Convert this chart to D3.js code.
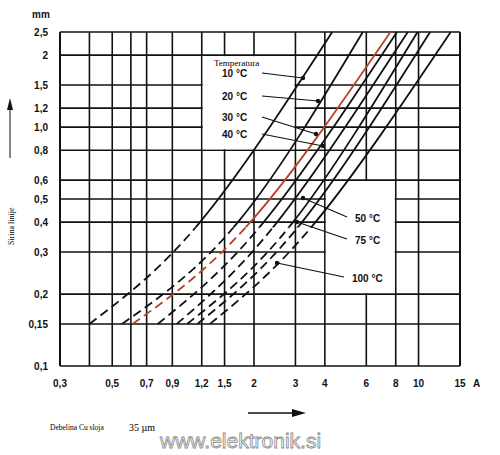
<!DOCTYPE html>
<meta charset="utf-8">
<style>
body { margin: 0; background: #fff; }
text { font-family: "Liberation Sans", Arial, sans-serif; }
.grid line { stroke: #111; stroke-width: 1.6; }
.lbl { font-size: 10px; font-weight: bold; fill: #111; }
.serif { font-family: "Liberation Serif", serif; }
</style>
<script src="https://d3js.org/d3.v7.min.js"></script>
<svg width="500" height="455"></svg>
<script>
var xTicks = [0.3, 0.5, 0.7, 0.9, 1.2, 1.5, 2, 3, 4, 6, 8, 10, 15];
var xTickText = ["0,3", "0,5", "0,7", "0,9", "1,2", "1,5", "2", "3", "4", "6", "8", "10", "15"];
var xGrid = [0.4, 0.5, 0.6, 0.7, 0.9, 1.2, 1.5, 2, 3, 4, 6, 8, 10];
var yTicks = [0.1, 0.15, 0.2, 0.3, 0.4, 0.5, 0.6, 0.8, 1.0, 1.2, 1.5, 2, 2.5];
var yTickText = ["0,1", "0,15", "0,2", "0,3", "0,4", "0,5", "0,6", "0,8", "1,0", "1,2", "1,5", "2", "2,5"];
// curves: current (A) at 0.15 mm, 0.4 mm and 2.5 mm
var curveStart = [0.4, 0.55, 0.61, 0.78, 0.94, 1.04, 1.15, 1.3];
var curveMid = [1.18, 1.71, 1.93, 2.2, 2.51, 2.93, 3.2, 3.65];
var curveEnd = [4.3, 5.8, 7.6, 8.1, 9.0, 9.9, 11.2, 13.7];
var curveRed = [false, false, true, false, false, false, false, false];
var tempLabels = ["10 °C", "20 °C", "30 °C", "40 °C"];
var lowLabels = ["50 °C", "75 °C", "100 °C"];

var svg = d3.select("svg");
var x = d3.scaleLog().domain([0.3, 15]).range([60, 460]);
var y = d3.scaleLog().domain([0.1, 2.5]).range([366, 32]);

var g = svg.append("g").attr("class", "grid");
g.selectAll(".v").data(xGrid).enter().append("line")
  .attr("x1", d => x(d)).attr("x2", d => x(d)).attr("y1", y(2.5)).attr("y2", y(0.1));
g.selectAll(".h").data(yTicks).enter().append("line")
  .attr("x1", x(0.3)).attr("x2", x(15)).attr("y1", d => y(d)).attr("y2", d => y(d));
g.append("line").attr("x1", x(0.3)).attr("x2", x(0.3)).attr("y1", y(2.5)).attr("y2", y(0.1)).style("stroke-width", 2);
g.append("line").attr("x1", x(15)).attr("x2", x(15)).attr("y1", y(2.5)).attr("y2", y(0.1)).style("stroke-width", 2);

// blank label boxes
svg.append("rect").attr("x", x(1.2) + 1).attr("y", y(2) + 1)
  .attr("width", x(3) - x(1.2) - 2).attr("height", y(0.8) - y(2) - 2).attr("fill", "#fff");
svg.append("rect").attr("x", x(4) + 1).attr("y", y(0.6) + 1)
  .attr("width", x(8) - x(4) - 2).attr("height", y(0.2) - y(0.6) - 2).attr("fill", "#fff");

// clip regions: dashed below ~0.38 mm, solid above
var split = 0.38;
var defs = svg.append("defs");
defs.append("clipPath").attr("id", "upper").append("rect")
  .attr("x", 0).attr("y", 0).attr("width", 500).attr("height", y(split));
defs.append("clipPath").attr("id", "lower").append("rect")
  .attr("x", 0).attr("y", y(split)).attr("width", 500).attr("height", 455 - y(split));

var line = d3.line().x(d => x(d[0])).y(d => y(d[1])).curve(d3.curveNatural);
curveStart.forEach(function(s, i) {
  var pts = [[s, 0.15], [curveMid[i], 0.4], [curveEnd[i], 2.5]];
  var col = curveRed[i] ? "#b5452a" : "#111";
  svg.append("path").attr("d", line(pts)).attr("fill", "none").attr("stroke", col)
    .attr("stroke-width", 1.8).attr("clip-path", "url(#upper)");
  svg.append("path").attr("d", line(pts)).attr("fill", "none").attr("stroke", col)
    .attr("stroke-width", 1.8).attr("stroke-dasharray", "9,5").attr("clip-path", "url(#lower)");
});

// temperature labels
svg.append("text").attr("class", "serif").attr("x", 214).attr("y", 66).attr("font-size", 9).text("Temperatura");
var tPos = [[222, 77, 303, 78], [222, 100, 318, 101], [222, 121, 316, 134], [222, 138, 323, 146]];
tempLabels.forEach(function(t, i) {
  var p = tPos[i];
  svg.append("text").attr("class", "lbl").attr("x", p[0]).attr("y", p[1]).text(t);
  svg.append("line").attr("x1", p[0] + 40).attr("y1", p[1] - 4).attr("x2", p[2]).attr("y2", p[3])
    .attr("stroke", "#111").attr("stroke-width", 1.2);
  svg.append("circle").attr("cx", p[2]).attr("cy", p[3]).attr("r", 2.2).attr("fill", "#111");
});
var lPos = [[355, 222, 303, 198], [355, 244, 297, 222], [352, 282, 277, 263]];
lowLabels.forEach(function(t, i) {
  var p = lPos[i];
  svg.append("text").attr("class", "lbl").attr("x", p[0]).attr("y", p[1]).text(t);
  svg.append("line").attr("x1", p[0] - 8).attr("y1", p[1] - 5).attr("x2", p[2]).attr("y2", p[3])
    .attr("stroke", "#111").attr("stroke-width", 1.2);
  svg.append("circle").attr("cx", p[2]).attr("cy", p[3]).attr("r", 2.2).attr("fill", "#111");
});

// tick labels
svg.selectAll(".yt").data(yTicks).enter().append("text").attr("class", "lbl")
  .attr("x", 48).attr("y", d => y(d) + 4).attr("text-anchor", "end")
  .text((d, i) => yTickText[i]);
svg.selectAll(".xt").data(xTicks).enter().append("text").attr("class", "lbl")
  .attr("x", d => x(d)).attr("y", 387).attr("text-anchor", "middle")
  .text((d, i) => xTickText[i]);
svg.append("text").attr("class", "lbl").attr("x", 473).attr("y", 387).text("A");
svg.append("text").attr("class", "lbl").attr("x", 32).attr("y", 18).text("mm");

// axis titles and arrows
svg.append("text").attr("class", "serif").attr("font-size", 8)
  .attr("transform", "translate(14,245) rotate(-90)").text("Sirina linije");
svg.append("line").attr("x1", 10).attr("y1", 158).attr("x2", 10).attr("y2", 105).attr("stroke", "#111");
svg.append("path").attr("d", "M10,98 L7,110 L13,110 Z").attr("fill", "#111");
svg.append("line").attr("x1", 248).attr("y1", 413).attr("x2", 296).attr("y2", 413).attr("stroke", "#111").attr("stroke-width", 1.5);
svg.append("path").attr("d", "M306,413 L292,409 L292,417 Z").attr("fill", "#111");
svg.append("text").attr("class", "serif").attr("x", 50).attr("y", 430).attr("font-size", 7.5).text("Debelina Cu sloja");
svg.append("text").attr("class", "serif").attr("x", 129).attr("y", 431).attr("font-size", 10).text("35 µm");
svg.append("text").attr("x", 160).attr("y", 448).attr("font-size", 21)
  .attr("fill", "#fff").attr("stroke", "#888").attr("stroke-width", 0.8).text("www.elektronik.si");
</script>
